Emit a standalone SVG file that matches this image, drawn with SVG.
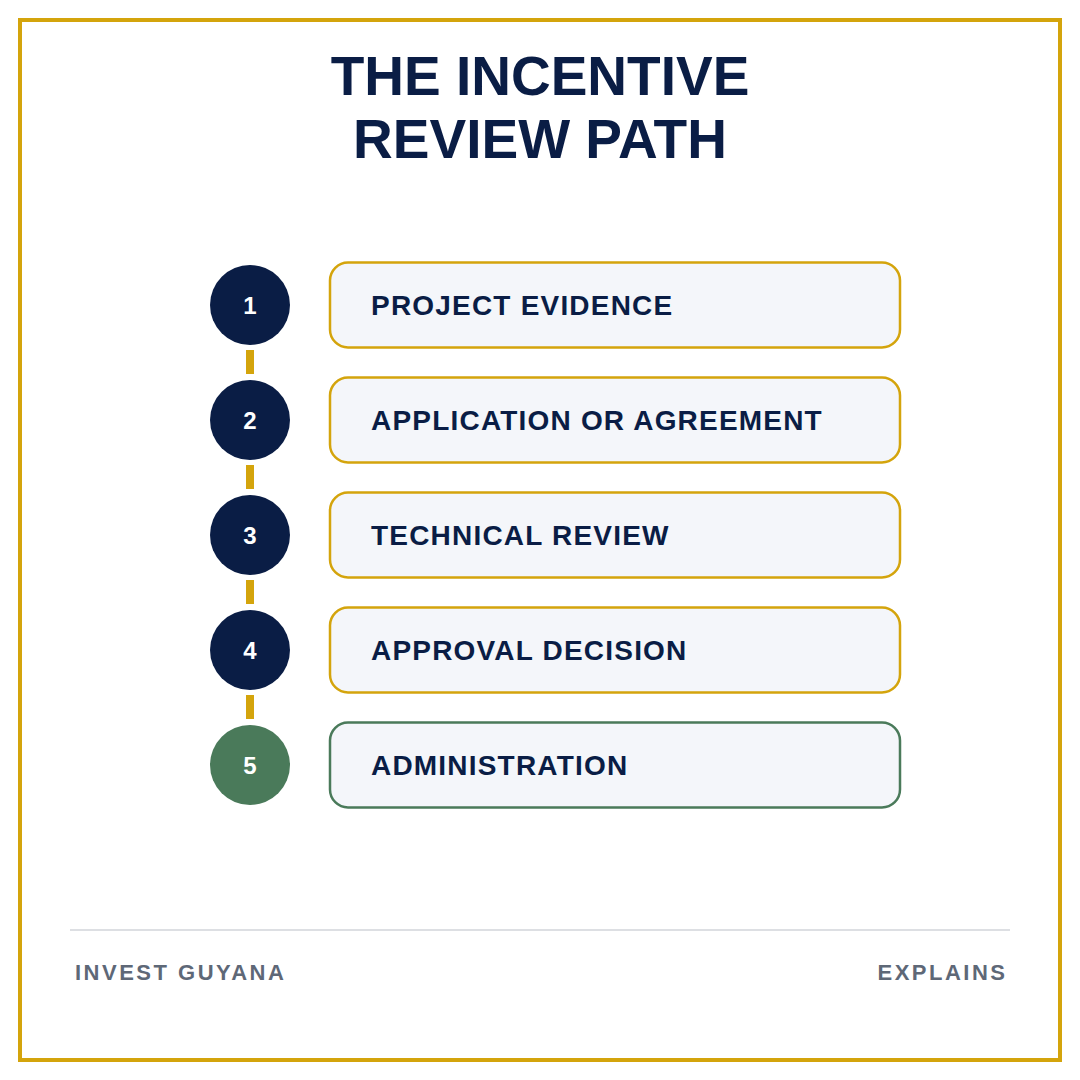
<svg xmlns="http://www.w3.org/2000/svg" width="1080" height="1080" viewBox="0 0 1080 1080">
  <style>
    .title { font-family: "Liberation Sans", Arial, sans-serif; font-weight: bold; font-size: 55px; fill: #0A1D45; text-anchor: middle; }
    .box { fill: #F4F6FA; stroke: #D4A40C; stroke-width: 2.5; }
    .box.final { stroke: #4A7A5A; }
    .circ { fill: #0A1D45; }
    .circ.final { fill: #4A7A5A; }
    .num { font-family: "Liberation Sans", Arial, sans-serif; font-weight: bold; font-size: 24px; fill: #FFFFFF; text-anchor: middle; }
    .label { font-family: "Liberation Sans", Arial, sans-serif; font-weight: bold; font-size: 28px; fill: #0A1D45; letter-spacing: 1.2px; }
    .foot { font-family: "Liberation Sans", Arial, sans-serif; font-weight: bold; font-size: 22px; fill: #5E6877; letter-spacing: 2.5px; }
    .conn { fill: #D4A40C; }
  </style>
  <rect x="0" y="0" width="1080" height="1080" fill="#FFFFFF"/>
  <rect x="20" y="20" width="1040" height="1040" fill="#FFFFFF" stroke="#D4A40C" stroke-width="4"/>

  <g id="title">
    <text class="title" x="540" y="95">THE INCENTIVE</text>
    <text class="title" x="540" y="158">REVIEW PATH</text>
  </g>

  <g id="connectors">
    <rect class="conn" x="246" y="350" width="8" height="24"/>
    <rect class="conn" x="246" y="465" width="8" height="24"/>
    <rect class="conn" x="246" y="580" width="8" height="24"/>
    <rect class="conn" x="246" y="695" width="8" height="24"/>
  </g>

  <g id="step1">
    <circle class="circ" cx="250" cy="305" r="40"/>
    <text class="num" x="250" y="313.5">1</text>
    <rect class="box" x="330" y="262.5" width="570" height="85" rx="18"/>
    <text class="label" x="371" y="315">PROJECT EVIDENCE</text>
  </g>
  <g id="step2">
    <circle class="circ" cx="250" cy="420" r="40"/>
    <text class="num" x="250" y="428.5">2</text>
    <rect class="box" x="330" y="377.5" width="570" height="85" rx="18"/>
    <text class="label" x="371" y="430">APPLICATION OR AGREEMENT</text>
  </g>
  <g id="step3">
    <circle class="circ" cx="250" cy="535" r="40"/>
    <text class="num" x="250" y="543.5">3</text>
    <rect class="box" x="330" y="492.5" width="570" height="85" rx="18"/>
    <text class="label" x="371" y="545">TECHNICAL REVIEW</text>
  </g>
  <g id="step4">
    <circle class="circ" cx="250" cy="650" r="40"/>
    <text class="num" x="250" y="658.5">4</text>
    <rect class="box" x="330" y="607.5" width="570" height="85" rx="18"/>
    <text class="label" x="371" y="660">APPROVAL DECISION</text>
  </g>
  <g id="step5">
    <circle class="circ final" cx="250" cy="765" r="40"/>
    <text class="num" x="250" y="773.5">5</text>
    <rect class="box final" x="330" y="722.5" width="570" height="85" rx="18"/>
    <text class="label" x="371" y="775">ADMINISTRATION</text>
  </g>

  <g id="footer">
    <line x1="70" y1="930" x2="1010" y2="930" stroke="#DDDFE3" stroke-width="2"/>
    <text class="foot" x="75" y="980">INVEST GUYANA</text>
    <text class="foot" x="1007.5" y="980" text-anchor="end">EXPLAINS</text>
  </g>
</svg>
